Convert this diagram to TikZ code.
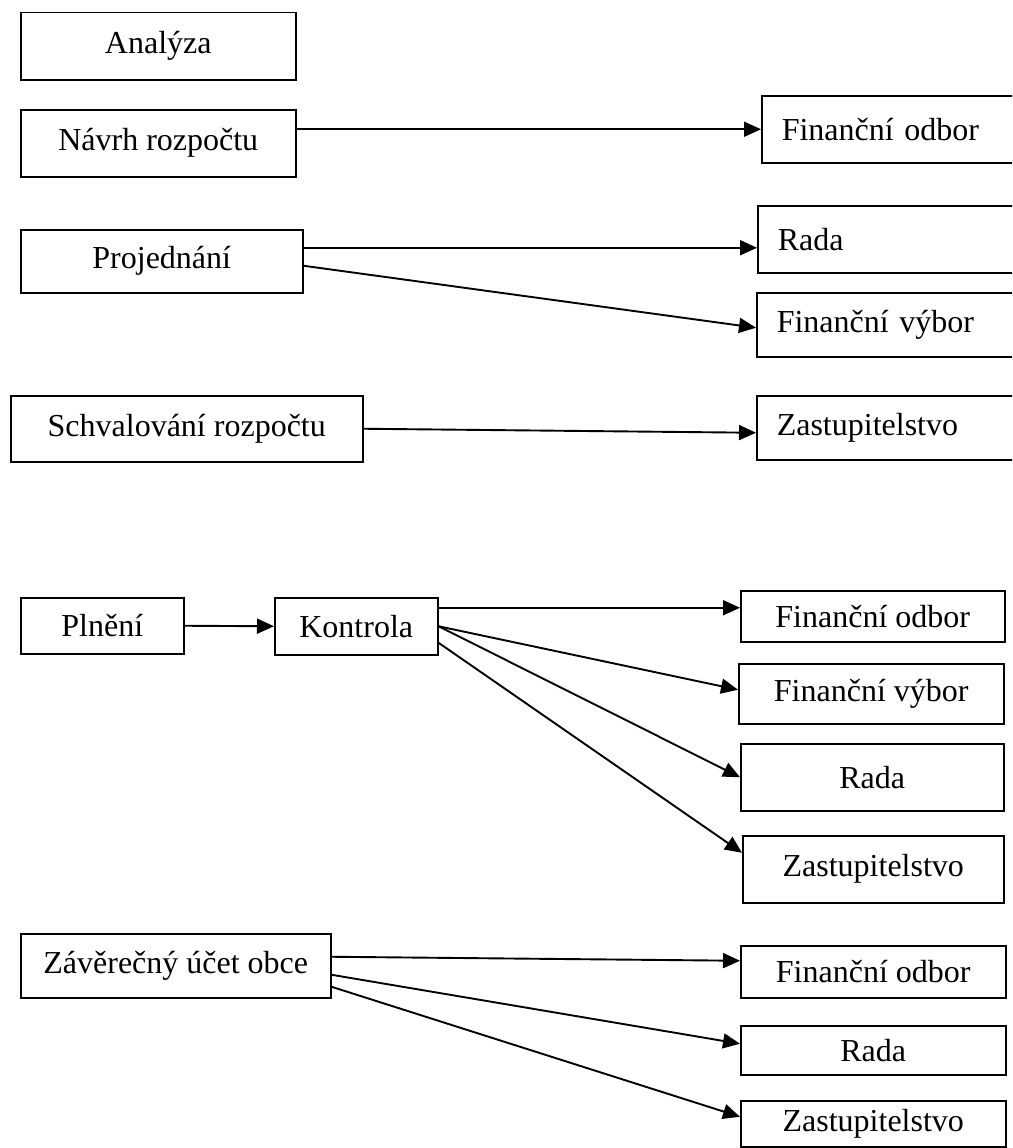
\documentclass[tikz,border=0pt]{standalone}
\usepackage{fontspec}
\setmainfont{Liberation Serif}
\usetikzlibrary{arrows.meta}
\tikzset{
  box/.style={draw, line width=1.5pt, anchor=north west, inner sep=0pt, font=\fontsize{32}{38}\selectfont},
  lbox/.style={box, text width=260pt, inner xsep=20pt, align=left},
  arr/.style={line width=1.9pt, -{Triangle[length=17pt,width=15pt]}}
}
\begin{document}
\begin{tikzpicture}[x=1pt, y=-1pt]
  \path[use as bounding box, clip] (0,0) rectangle (1012,1148);
  % sestavení rozpočtu
  \node[box, minimum width=275pt, minimum height=67pt] (ana) at (20,12) {Analýza};
  \node[box, minimum width=275pt, minimum height=67pt] (navrh) at (20,109) {Návrh rozpočtu};
  \node[box, minimum width=282pt, minimum height=63pt] (proj) at (20,229) {Projednání};
  \node[box, minimum width=352pt, minimum height=66pt] (schval) at (10,395) {Schvalování rozpočtu};
  \node[lbox, minimum height=67pt] (fodbor1) at (761,95) {Finanční odbor};
  \node[lbox, minimum height=67pt] (rada1) at (757,205) {Rada};
  \node[lbox, minimum height=64pt] (fvybor1) at (756,292) {Finanční výbor};
  \node[lbox, minimum height=64pt] (zast1) at (756,395) {Zastupitelstvo};
  \draw[arr] (navrh.east |- fodbor1.west) -- (fodbor1.west);
  \draw[arr] ([yshift=13.5pt]proj.east) -- ([yshift=-8.5pt]rada1.west);
  \draw[arr] ([yshift=-4.5pt]proj.east) -- ([yshift=-3pt]fvybor1.west);
  \draw[arr] (schval.east) -- ([yshift=-5pt]zast1.west);
  % plnění a kontrola
  \node[box, minimum width=163pt, minimum height=56pt] (plneni) at (20,597) {Plnění};
  \node[box, minimum width=163pt, minimum height=57pt] (kontrola) at (274,597) {Kontrola};
  \node[box, minimum width=264pt, minimum height=51pt] (fodbor2) at (740,590) {Finanční odbor};
  \node[box, minimum width=265pt, minimum height=60pt] (fvybor2) at (738,663) {Finanční výbor};
  \node[box, minimum width=263pt, minimum height=67pt] (rada2) at (740,743) {Rada};
  \node[box, minimum width=261pt, minimum height=67pt] (zast2) at (742,835) {Zastupitelstvo};
  \draw[arr] (plneni.east) -- (kontrola.west);
  \draw[arr] ([yshift=18.5pt]kontrola.east) -- ([yshift=8.5pt]fodbor2.west);
  \draw[arr] (kontrola.east) -- ([yshift=4pt]fvybor2.west);
  \draw[arr] (kontrola.east) -- (rada2.west);
  \draw[arr] ([yshift=-16.5pt]kontrola.east) -- ([yshift=16.5pt]zast2.west);
  % závěrečný účet
  \node[box, minimum width=310pt, minimum height=64pt] (zaver) at (20,933) {Závěrečný účet obce};
  \node[box, minimum width=265pt, minimum height=52pt] (fodbor3) at (740,945) {Finanční odbor};
  \node[box, minimum width=265pt, minimum height=49pt] (rada3) at (740,1025) {Rada};
  \node[box, minimum width=265pt, minimum height=46pt] (zast3) at (740,1100) {Zastupitelstvo};
  \draw[arr] ([yshift=9pt]zaver.east) -- ([yshift=11pt]fodbor3.west);
  \draw[arr] ([yshift=-9pt]zaver.east) -- ([yshift=6.5pt]rada3.west);
  \draw[arr] ([yshift=-21pt]zaver.east) -- ([yshift=7pt]zast3.west);
\end{tikzpicture}
\end{document}
